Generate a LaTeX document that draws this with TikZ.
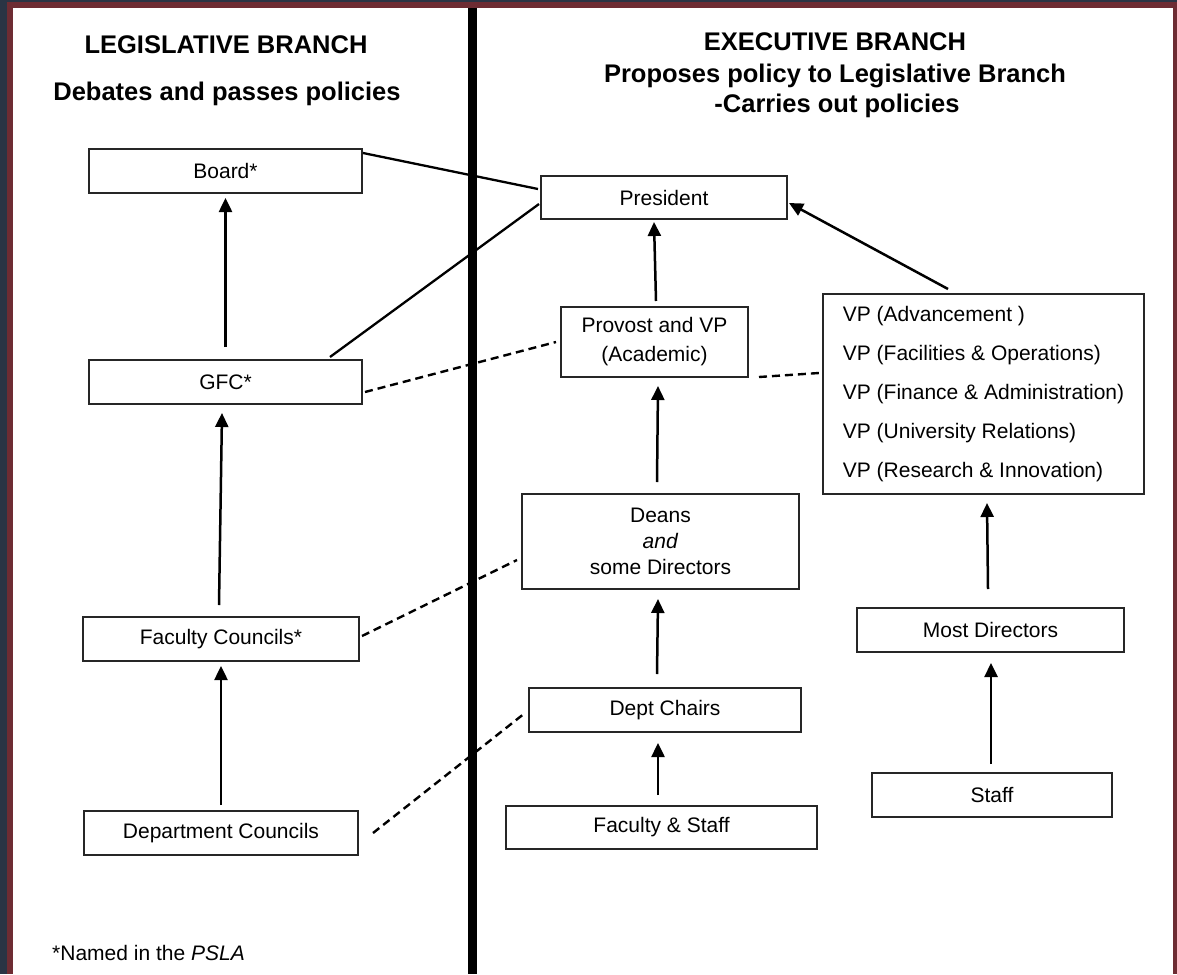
\documentclass[tikz,border=0pt]{standalone}
\usepackage{fontspec}
\setmainfont{Liberation Sans}
\usetikzlibrary{arrows.meta}
\definecolor{bgdark}{HTML}{2A3444}
\definecolor{maroon}{HTML}{6E2C33}
\begin{document}
\begin{tikzpicture}[x=1pt,y=-1pt,
  box/.style={draw=black!85, line width=2pt, inner sep=0pt, fill=white,
    font=\fontsize{21}{25}\selectfont, align=center},
  arr/.style={line width=2.5pt, -{Triangle[length=14pt,width=13pt]}},
  plain/.style={line width=2.3pt},
  dashline/.style={line width=2.4pt, dash pattern=on 8pt off 5pt},
  head/.style={font=\bfseries\fontsize{25.5}{30}\selectfont, anchor=base, inner sep=0pt}]
% background and frame
\useasboundingbox (0,0) rectangle (1177,974);
\fill[bgdark] (0,0) rectangle (1177,974);
\fill[maroon] (7,2) rectangle (1177,974);
\fill[white] (12.5,8) rectangle (1172.5,974);
% divider
\fill[black] (468,8) rectangle (477,974);
% headers
\node[head] (lh1) at (226,53) {LEGISLATIVE BRANCH};
\node[head] (lh2) at (227,100) {Debates and passes policies};
\node[head] (eh1) at (835,51) {EXECUTIVE BRANCH};
\node[head] (eh2) at (835,82) {Proposes policy to Legislative Branch};
\node[head] (eh3) at (837,112) {-Carries out policies};
% legislative boxes
\node[box, minimum width=273pt, minimum height=44pt] (board) at (225.5,171) {Board*};
\node[box, minimum width=273pt, minimum height=44pt] (gfc) at (225.5,382) {GFC*};
\node[box, minimum width=276pt, minimum height=44pt] (fc) at (221,639) {Faculty Councils*};
\node[box, minimum width=274pt, minimum height=44pt] (dc) at (221,833) {Department Councils};
% executive boxes
\node[box, minimum width=246pt, minimum height=43pt] (pres) at (664,197.5) {President};
\node[box, minimum width=187pt, minimum height=70pt, font=\fontsize{21}{29}\selectfont] (prov) at (654.5,342) {Provost and VP\\(Academic)};
\node[box, minimum width=277pt, minimum height=95pt, font=\fontsize{21}{26}\selectfont] (deans) at (660.5,541.5) {Deans\\\textit{and}\\some Directors};
\node[box, minimum width=272pt, minimum height=44pt] (chairs) at (665,710) {Dept Chairs};
\node[box, minimum width=311pt, minimum height=43pt] (fs) at (661.5,827.5) {Faculty \& Staff};
\node[box, minimum width=321pt, minimum height=200pt, align=left, font=\fontsize{21}{39}\selectfont] (vp) at (983.5,394) {VP (Advancement )\\VP (Facilities \& Operations)\\VP (Finance \& Administration)\\VP (University Relations)\\VP (Research \& Innovation)};
\node[box, minimum width=267pt, minimum height=44pt] (md) at (990.5,630) {Most Directors};
\node[box, minimum width=240pt, minimum height=44pt] (staff) at (992,795) {Staff};
% footnote
\node[font=\fontsize{21}{25}\selectfont, anchor=base west, inner sep=0pt] (note) at (52,960) {*Named in the \textit{PSLA}};
% solid lines
\draw[plain] ([yshift=-5pt]board.north east) -- ([xshift=-2pt,yshift=8.5pt]pres.west);
\draw[plain] ([xshift=104.5pt,yshift=2pt]gfc.north) -- ([xshift=-1pt,yshift=-6.5pt]pres.west);
% arrows legislative
\draw[arr] ([yshift=12pt]gfc.north) -- ([yshift=-4pt]board.south);
\draw[arr] ([xshift=-2pt,yshift=11pt]fc.north) -- ([xshift=-3.5pt,yshift=-8pt]gfc.south);
\draw[arr] ([yshift=5pt]dc.north) -- ([yshift=-4pt]fc.south);
% arrows executive
\draw[arr] ([xshift=1.5pt,yshift=5pt]prov.north) -- ([xshift=-10pt,yshift=-2pt]pres.south);
\draw[arr] ([xshift=-3.5pt,yshift=11pt]deans.north) -- ([xshift=3.5pt,yshift=-8pt]prov.south);
\draw[arr] ([xshift=-8pt,yshift=13pt]chairs.north) -- ([xshift=-2.5pt,yshift=-9pt]deans.south);
\draw[arr] ([xshift=-3.5pt,yshift=10pt]fs.north) -- ([xshift=-7pt,yshift=-10pt]chairs.south);
\draw[arr] ([xshift=-35.5pt,yshift=4pt]vp.north) -- ([xshift=1pt,yshift=-5.5pt]pres.east);
\draw[arr] ([xshift=-2.5pt,yshift=18pt]md.north) -- ([xshift=3.5pt,yshift=-8pt]vp.south);
\draw[arr] ([xshift=-1pt,yshift=8pt]staff.north) -- ([xshift=0.5pt,yshift=-10pt]md.south);
% dashed links
\draw[dashline] ([xshift=2pt,yshift=-10pt]gfc.east) -- ([xshift=-4pt]prov.west);
\draw[dashline] ([xshift=10pt,yshift=1pt]prov.south east) -- ([xshift=-3pt,yshift=21pt]vp.west);
\draw[dashline] ([xshift=2pt,yshift=3pt]fc.east) -- ([xshift=-4pt,yshift=-18.5pt]deans.west);
\draw[dashline] ([xshift=14pt]dc.east) -- ([xshift=-3pt,yshift=-3pt]chairs.west);
\end{tikzpicture}
\end{document}
